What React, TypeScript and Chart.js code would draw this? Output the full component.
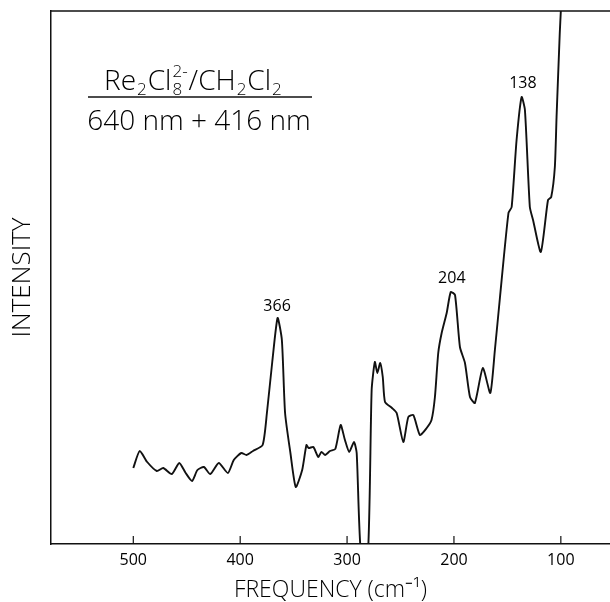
import React, { useEffect, useRef } from "react";
import { Chart, registerables } from "chart.js";

Chart.register(...registerables);

// Raman shift (cm^-1) and relative intensity (arbitrary units)
const wavenumbers = [
  500, 494, 487, 478, 472, 464, 457, 451, 445, 440, 434, 428, 420, 411.5, 406, 399, 394, 388, 379,
  375, 370, 365, 361, 358, 353, 348, 342, 338, 336, 331.5, 327, 324, 320.5, 316, 311, 306, 302, 298,
  293.5, 291, 287, 280.5, 277, 274, 271.7, 269, 266.6, 264.5, 258, 253.6, 247.4, 242.7, 238, 231.8,
  225.5, 221, 217.8, 214.7, 211.5, 206.8, 203, 199, 194.4, 189.7, 185, 180.4, 173, 166, 161.7, 157,
  149, 146, 141.4, 136.7, 133.6, 129, 126, 118.7, 112, 109, 105.6, 104, 101, 100, 99,
];
const intensity = [
  76, 93, 82, 73, 76, 70, 81, 71, 63, 74, 77, 70, 81, 71, 84, 91, 89, 93, 99,
  131, 182, 226, 204, 131, 91, 57, 74, 99, 96, 97, 87, 92, 89, 93, 95, 119, 104, 92,
  102, 91, -10, -10, 154, 182, 171, 181, 167, 142, 136, 131, 102, 127, 129, 109,
  116, 124, 147, 191, 211, 231, 252, 249, 197, 181, 147, 141, 176, 151, 194, 246,
  331, 337, 404, 447, 434, 337, 324, 292, 344, 347, 377, 427, 511, 533, 560,
];

const xTicks = [500, 400, 300, 200, 100];
const xMin = 54;
const xMax = 577;
const yMin = 0;
const yMax = 533;

const peakLabels = ["366", "204", "138"];
const peakLabelX = [365.5, 202, 135.5];
const peakLabelY = [238, 266, 461];

const titleSpecies = ["Re", "2", "Cl", "8", "2-", "/CH", "2", "Cl", "2"];
const titleKinds = ["n", "sub", "n", "sub", "sup", "n", "sub", "n", "sub"];
const titleExcitation = "640 nm + 416 nm";

const FONT = "'Open Sans', 'DejaVu Sans', sans-serif";

const decorPlugin = {
  id: "decor",
  afterDraw(chart: any) {
    const { ctx, chartArea, scales } = chart;
    const xs = scales.x;
    const ys = scales.y;
    ctx.save();
    ctx.strokeStyle = "#111";
    ctx.fillStyle = "#000";
    // top frame line
    ctx.lineWidth = 1.5;
    ctx.beginPath();
    ctx.moveTo(chartArea.left, chartArea.top);
    ctx.lineTo(chartArea.right, chartArea.top);
    ctx.stroke();
    // inward tick marks
    ctx.lineWidth = 1.2;
    xTicks.forEach((v) => {
      const px = xs.getPixelForValue(v);
      ctx.beginPath();
      ctx.moveTo(px, chartArea.bottom);
      ctx.lineTo(px, chartArea.bottom - 8);
      ctx.stroke();
    });
    // peak labels
    ctx.font = `normal 16px ${FONT}`;
    ctx.textAlign = "center";
    ctx.textBaseline = "middle";
    peakLabels.forEach((t, i) => {
      ctx.fillText(t, xs.getPixelForValue(peakLabelX[i]), ys.getPixelForValue(peakLabelY[i]));
    });

    // title block
    const big = `300 28px ${FONT}`;
    const small = `300 17px ${FONT}`;
    let x = 104;
    const base = 90;
    ctx.textAlign = "left";
    ctx.textBaseline = "alphabetic";
    let lastSubX = 0;
    titleSpecies.forEach((t, i) => {
      const k = titleKinds[i];
      if (k === "n") {
        ctx.font = big;
        ctx.fillText(t, x, base);
        x += ctx.measureText(t).width;
      } else if (k === "sub") {
        ctx.font = small;
        lastSubX = x + 1;
        ctx.fillText(t, x + 1, base + 5);
        const w = ctx.measureText(t).width + 2;
        x += w;
      } else {
        ctx.font = small;
        ctx.fillText(t, lastSubX, base - 13);
        const w = ctx.measureText(t).width + 1;
        x = Math.max(x, lastSubX + w);
      }
    });
    ctx.lineWidth = 1.6;
    ctx.beginPath();
    ctx.moveTo(88, 97);
    ctx.lineTo(312, 97);
    ctx.stroke();
    ctx.font = big;
    ctx.textAlign = "center";
    ctx.fillText(titleExcitation, 199, 130);
    ctx.restore();
  },
};

export default function App() {
  const ref = useRef<HTMLCanvasElement>(null);
  useEffect(() => {
    if (!ref.current) return;
    const points = wavenumbers.map((w, i) => ({ x: w, y: intensity[i] }));
    const chart = new Chart(ref.current, {
      type: "line",
      data: {
        datasets: [
          {
            data: points,
            borderColor: "#111",
            borderWidth: 1.9,
            pointRadius: 0,
            tension: 0.2,
            fill: false,
          },
        ],
      },
      options: {
        animation: false,
        responsive: true,
        maintainAspectRatio: false,
        layout: { padding: { top: 11, right: 0, bottom: 0, left: 0 } },
        plugins: { legend: { display: false }, tooltip: { enabled: false } },
        scales: {
          x: {
            type: "linear",
            reverse: true,
            min: xMin,
            max: xMax,
            afterBuildTicks: (scale: any) => {
              scale.ticks = xTicks.map((v) => ({ value: v }));
            },
            afterFit: (scale: any) => {
              scale.height = 58;
            },
            grid: { display: false, drawTicks: false },
            border: { display: true, color: "#111", width: 1.5 },
            ticks: {
              color: "#000",
              padding: 7,
              font: { family: FONT, size: 16, weight: "normal" },
              maxRotation: 0,
              autoSkip: false,
            },
            title: {
              display: true,
              text: "FREQUENCY (cm⁻¹)",
              color: "#000",
              font: { family: FONT, size: 23, weight: "300", lineHeight: 1 },
              padding: { top: 0, bottom: 0 },
            },
          },
          y: {
            min: yMin,
            max: yMax,
            afterFit: (scale: any) => {
              scale.width = 51;
            },
            grid: { display: false, drawTicks: false },
            border: { display: true, color: "#111", width: 1.5 },
            ticks: { display: false },
            title: {
              display: true,
              text: "INTENSITY",
              color: "#000",
              font: { family: FONT, size: 26, weight: "300", lineHeight: 1.2 },
              padding: { top: 7, bottom: 4 },
            },
          },
        },
      },
      plugins: [decorPlugin],
    });
    return () => chart.destroy();
  }, []);
  return (
    <div style={{ position: "absolute", left: 0, top: 0, width: 610, height: 602, background: "#fff" }}>
      <canvas ref={ref} />
    </div>
  );
}
